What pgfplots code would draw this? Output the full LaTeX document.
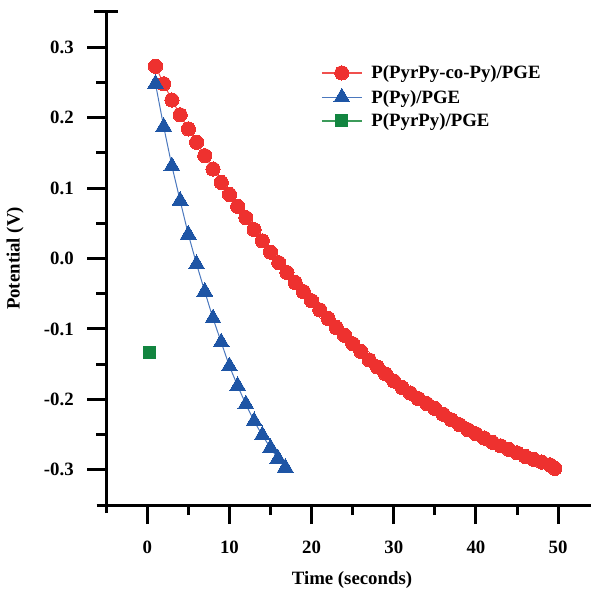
\documentclass[border=0pt]{standalone}
\usepackage{fontspec}
\setmainfont{Liberation Serif}
\usepackage{pgfplots}
\pgfplotsset{compat=1.18}
\definecolor{redm}{RGB}{238,49,47}
\definecolor{redl}{RGB}{240,80,78}
\definecolor{bluem}{RGB}{30,85,165}
\definecolor{bluel}{RGB}{75,120,190}
\definecolor{greenm}{RGB}{18,133,64}
\definecolor{greenl}{RGB}{60,155,90}
\newcommand\ff{\fontsize{18.8}{22}\selectfont\bfseries}
\begin{document}
\begin{tikzpicture}
\path[use as bounding box] (0,0) rectangle (591pt,590pt);
\begin{axis}[
  at={(106.2pt,85pt)}, anchor=south west,
  width=484.8pt, height=493pt, scale only axis,
  xmin=-5, xmax=54, ymin=-0.35, ymax=0.35,
  axis x line*=bottom, axis y line*=left,
  x axis line style={-, line width=3pt, shorten <=-9.5pt},
  y axis line style={-, line width=3pt, shorten <=-8pt},
  xtick={0,10,...,50}, minor x tick num=1,
  ytick={-0.3,-0.2,...,0.3}, minor y tick num=1,
  extra y ticks={0.35}, extra y tick labels={},
  extra y tick style={tick align=center, major tick length=24pt},
  tick align=outside, major tick length=19pt, minor tick length=10pt,
  major tick style={black, line width=3pt},
  minor tick style={black, line width=3pt},
  tick label style={font=\ff},
  /pgf/number format/assume math mode=true,
  yticklabel style={/pgf/number format/.cd, fixed, fixed zerofill, precision=1},
  xticklabel shift=13pt,
  yticklabel shift=10pt,
  xlabel={Time (seconds)}, ylabel={Potential (V)},
  label style={font=\ff},
  xlabel style={at={(axis description cs:0.507,-0.152)}, anchor=center},
  ylabel style={at={(axis description cs:-0.188,0.5)}, anchor=center},
  legend style={at={(axis description cs:0.443,0.8936)}, anchor=north west,
    draw=none, fill=none, font=\ff, inner sep=0pt,
    nodes={inner sep=1pt}, row sep=7pt, column sep=8pt},
  legend cell align=left,
  legend image code/.code={\draw[mark repeat=2,mark phase=2,line width=1.3pt] plot coordinates {(0pt,0pt) (20pt,0pt) (40pt,0pt)};},
]
\addplot[redl, line width=1pt, mark=*, mark size=7.1pt, mark options={fill=redm, draw=redm, line width=0pt}] coordinates {
(1,0.273) (2,0.248) (3,0.225) (4,0.204) (5,0.184) (6,0.165) (7,0.146) (8,0.127) (9,0.108) (10,0.091)
(11,0.074) (12,0.058) (13,0.041) (14,0.025) (15,0.009) (16,-0.006) (17,-0.020) (18,-0.034) (19,-0.047) (20,-0.060)
(21,-0.073) (22,-0.085) (23,-0.098) (24,-0.109) (25,-0.121) (26,-0.132) (27,-0.144) (28,-0.154) (29,-0.164) (30,-0.174)
(31,-0.183) (32,-0.191) (33,-0.199) (34,-0.206) (35,-0.213) (36,-0.221) (37,-0.229) (38,-0.236) (39,-0.243) (40,-0.249)
(41,-0.255) (42,-0.261) (43,-0.266) (44,-0.271) (45,-0.276) (46,-0.281) (47,-0.285) (48,-0.289) (49,-0.293) (49.6,-0.298)
};
\addlegendentry{P(PyrPy-co-Py)/PGE}
\addplot[bluel, line width=1pt, mark=triangle*, mark size=9.2pt, mark options={fill=bluem, draw=bluem, line width=0pt}] coordinates {
(1,0.248) (2,0.187) (3,0.131) (4,0.082) (5,0.034) (6,-0.008) (7,-0.047) (8,-0.085) (9,-0.119) (10,-0.153)
(11,-0.181) (12,-0.207) (13,-0.231) (14,-0.251) (15,-0.269) (15.9,-0.284) (16.8,-0.297)
};
\addlegendentry{P(Py)/PGE}
\addplot[greenl, line width=1pt, mark=square*, mark size=6pt, mark options={fill=greenm, draw=greenm, line width=0pt}] coordinates {
(0.33,-0.1335)
};
\addlegendentry{P(PyrPy)/PGE}
\end{axis}
\end{tikzpicture}
\end{document}
